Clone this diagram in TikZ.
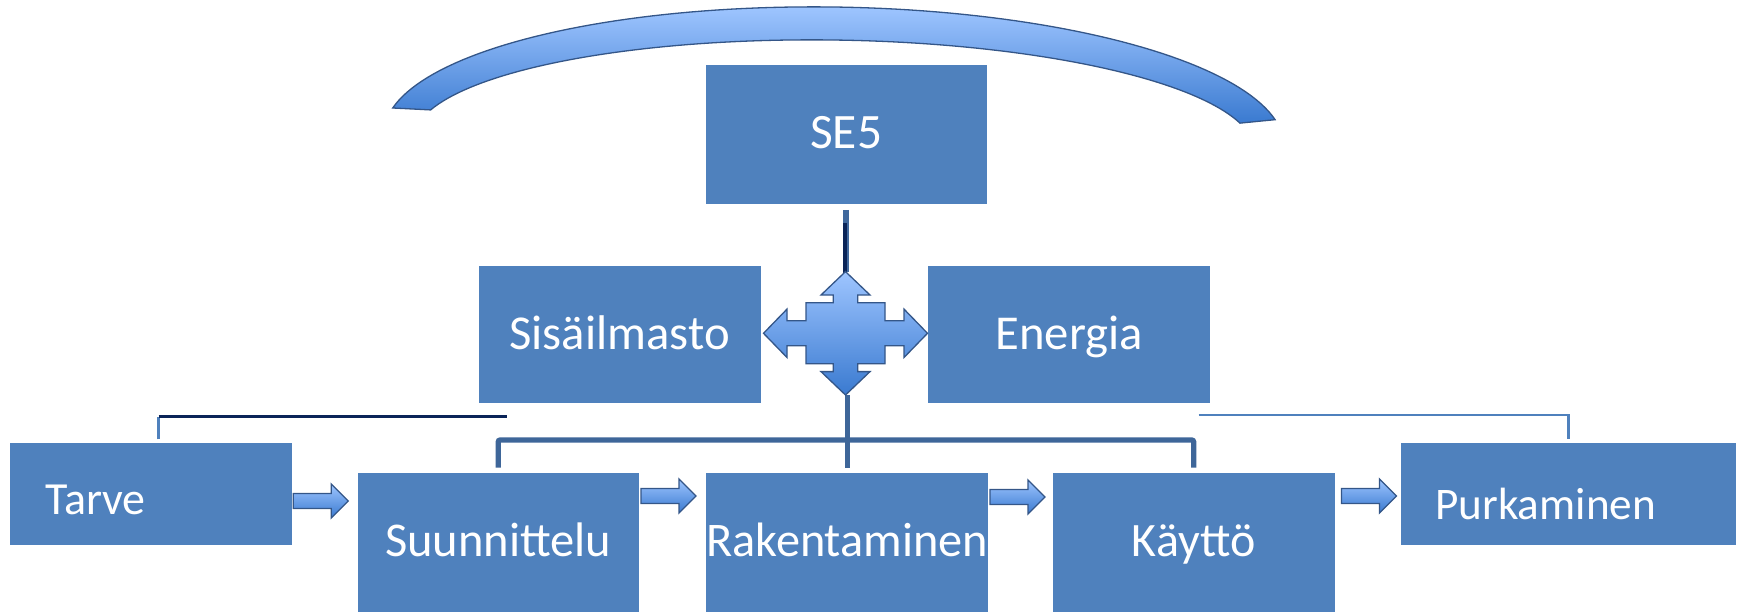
\documentclass[tikz,border=0pt]{standalone}
\usepackage{fontspec}
\setmainfont{Carlito}
\usetikzlibrary{calc}
\definecolor{boxblue}{RGB}{79,129,189}
\definecolor{medblue}{RGB}{79,129,189}
\definecolor{brkblue}{RGB}{62,102,153}
\definecolor{stemblue}{RGB}{64,104,156}
\definecolor{darknavy}{RGB}{10,36,88}
\definecolor{gradtop}{RGB}{158,197,255}
\definecolor{gradbot}{RGB}{58,122,208}
\definecolor{shapeedge}{RGB}{52,86,136}
\newcommand{\sizedfont}[1]{\fontsize{#1}{#1}\selectfont}
\begin{document}
\begin{tikzpicture}[x=1pt,y=-1pt,
  box/.style={fill=boxblue, inner sep=0pt, text=white, anchor=north west, text depth=0pt},
  gradshape/.style={top color=gradtop, bottom color=gradbot, draw=shapeedge, line width=1.3pt, line join=miter},
  medline/.style={draw=medblue, line width=2.7pt},
  navyline/.style={draw=darknavy, line width=3.4pt},
  brkline/.style={draw=brkblue, line width=5.3pt, rounded corners=2pt},
  stemline/.style={draw=stemblue, line width=6pt},
  darkstem/.style={draw=darknavy, line width=4.3pt},
  blockarr/.pic={\path[gradshape] (0,-7.5) -- (38,-7.5) -- (38,-17) -- (55,0) -- (38,17) -- (38,7.5) -- (0,7.5) -- cycle;}
]
\useasboundingbox (0,0) rectangle (1741,611);

% arc band
\path[gradshape] plot[domain=168.7:11.4, samples=90, variable=\t] ({834+450*cos(\t)}, {140-133*sin(\t)+450*cos(\t)*0.0135})
  -- plot[domain=15.1:163.6, samples=90, variable=\t] ({834+420.5*cos(\t)}, {145-105*sin(\t)+420.5*cos(\t)*0.0135}) -- cycle;

% boxes
\node[box, minimum width=281pt, minimum height=139pt, font={\sizedfont{49.5}}, text height=28.5pt] (se5) at (705.5,64.5) {SE5};
\node[box, minimum width=282pt, minimum height=137pt, font={\sizedfont{48.7}}, text height=31pt] (sis) at (478.5,265.5) {Sisäilmasto};
\node[box, minimum width=282pt, minimum height=137pt, font={\sizedfont{48.7}}, text height=31pt] (ene) at (928,265.5) {Energia};
\node[box, minimum width=282pt, minimum height=102pt, font={\sizedfont{46}}, text height=42.4pt, text width=212pt, align=left] (tarve) at (10,442.3) {Tarve};
\node[box, minimum width=281pt, minimum height=140pt, font={\sizedfont{48.5}}, text height=26pt] (suun) at (357.5,473) {Suunnittelu};
\node[box, minimum width=281pt, minimum height=140pt, font={\sizedfont{48.3}}, text height=26pt] (rak) at (706,473) {Rakentaminen};
\node[box, minimum width=282pt, minimum height=140pt, font={\sizedfont{48}}, text height=26pt] (kay) at (1052.5,473) {Käyttö};
\node[box, minimum width=335pt, minimum height=102pt, font={\sizedfont{45.2}}, text height=51.4pt, text width=267pt, align=left] (purk) at (1401,442.3) {Purkaminen};

% helper coordinates
\coordinate (lbar) at (158.5,416.7);
\coordinate (lbarend) at (507,416.7);
\coordinate (rbar) at (1198.5,415);
\coordinate (rcorner) at (1568.3,415);
\coordinate (brk) at (0,440);
\coordinate (qtop) at (845.5,271.7);
\coordinate (qbot) at (845.5,395);

% connectors
\draw[medline] ($(lbar |- tarve.north)+(0,-3)$) -- (lbar);
\draw[navyline] (lbar) -- (lbarend);
\draw[medline] (rbar) -- (rcorner) -- ($(rcorner |- purk.north)+(0,-3)$);
\draw[brkline] ($(suun.north)+(0,-5.5)$) -- (suun.north |- brk) -- (kay.north |- brk) -- ($(kay.north)+(0,-5.5)$);
\draw[brkline] (qbot -| rak.north) -- ($(rak.north)+(0,-5.5)$);
\draw[stemline] ($(se5.south)+(0,6)$) -- (qtop -| se5.south);
\draw[darkstem] ($(se5.south)+(-1,19)$) -- ($(qtop -| se5.south)+(-1,4)$);

% quad arrow
\begin{scope}[shift={(845.5,333.3)}]
\path[gradshape] (0,-61.7) -- (24.5,-38.3) -- (12.2,-38.3) -- (12.2,-30.5) -- (39.5,-30.5) -- (39.5,-12.5) -- (58.5,-12.5) -- (58.5,-24.2) -- (82,0)
  -- (58.5,24.2) -- (58.5,12.5) -- (39.5,12.5) -- (39.5,30.5) -- (12.2,30.5) -- (12.2,38.3) -- (24.5,38.3) -- (0,61.7)
  -- (-24.5,38.3) -- (-12.2,38.3) -- (-12.2,30.5) -- (-39.5,30.5) -- (-39.5,12.5) -- (-58.5,12.5) -- (-58.5,24.2) -- (-82,0)
  -- (-58.5,-24.2) -- (-58.5,-12.5) -- (-39.5,-12.5) -- (-39.5,-30.5) -- (-12.2,-30.5) -- (-12.2,-38.3) -- (-24.5,-38.3) -- cycle;
\end{scope}

% block arrows between stages
\pic at (293.3,501) {blockarr};
\pic at (641,496) {blockarr};
\pic at (990,497) {blockarr};
\pic at (1341.5,496) {blockarr};
\end{tikzpicture}
\end{document}
